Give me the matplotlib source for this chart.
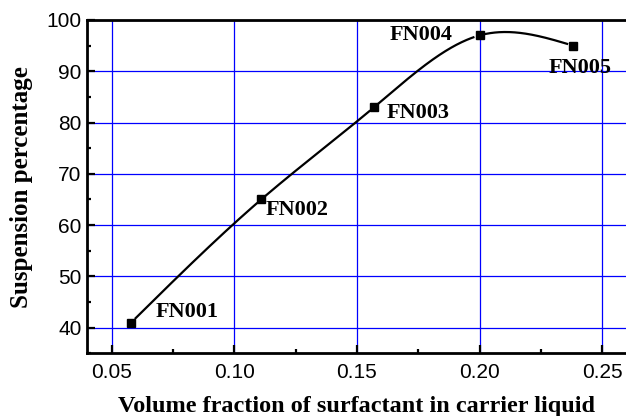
import numpy as np
import matplotlib
matplotlib.use('Agg')
import matplotlib.pyplot as plt
from matplotlib.ticker import MultipleLocator

samples = ['FN001', 'FN002', 'FN003', 'FN004', 'FN005']
volume_fraction = [0.058, 0.111, 0.157, 0.200, 0.238]
suspension = [41, 65, 83, 97, 95]

# label offsets in pixels (dx, dy) and horizontal alignment
label_offsets = [(24, 11), (4, -11), (12, -6), (-27, 0), (7, -22)]
label_ha = ['left', 'left', 'left', 'right', 'center']


def natural_spline(x, y, xs):
    # plain natural cubic spline, used only to draw the smooth connecting line
    x = np.asarray(x, float)
    y = np.asarray(y, float)
    n = len(x)
    h = np.diff(x)
    A = np.zeros((n, n))
    b = np.zeros(n)
    A[0, 0] = A[-1, -1] = 1
    for i in range(1, n - 1):
        A[i, i - 1] = h[i - 1]
        A[i, i] = 2 * (h[i - 1] + h[i])
        A[i, i + 1] = h[i]
        b[i] = 6 * ((y[i + 1] - y[i]) / h[i] - (y[i] - y[i - 1]) / h[i - 1])
    M = np.linalg.solve(A, b)
    idx = np.clip(np.searchsorted(x, xs) - 1, 0, n - 2)
    x0, x1 = x[idx], x[idx + 1]
    hh = x1 - x0
    t0 = x1 - xs
    t1 = xs - x0
    return ((M[idx] * t0 ** 3 + M[idx + 1] * t1 ** 3) / (6 * hh)
            + (y[idx] / hh - M[idx] * hh / 6) * t0
            + (y[idx + 1] / hh - M[idx + 1] * hh / 6) * t1)


fig = plt.figure(figsize=(6.26, 4.16), dpi=100)
ax = fig.add_axes([0.139, 0.1507, 0.8625, 0.8013])
ax.set_xlim(0.04, 0.26)
ax.set_ylim(35, 100)

ax.xaxis.set_minor_locator(MultipleLocator(0.025))
ax.yaxis.set_minor_locator(MultipleLocator(5))
ax.set_yticks(np.arange(40, 101, 10))
ax.set_xticks(np.arange(0.05, 0.26, 0.05))
ax.set_xticklabels(['%.2f' % v for v in np.arange(0.05, 0.26, 0.05)])

ax.grid(True, which='major', color='#0000ff', linewidth=0.9)
ax.set_axisbelow(True)

for side in ['left', 'bottom', 'top']:
    ax.spines[side].set_linewidth(2)
ax.spines['right'].set_visible(False)

ax.tick_params(which='both', direction='in', top=False, right=False,
               width=1.6, colors='black')
ax.tick_params(which='major', length=6)
ax.tick_params(which='minor', length=3)
ax.tick_params(axis='x', pad=7)
ax.tick_params(axis='y', pad=4)
for lab in ax.get_xticklabels() + ax.get_yticklabels():
    lab.set_fontfamily('Liberation Sans')
    lab.set_fontsize(15)

# smooth line with small gaps around the symbols
xs = np.linspace(volume_fraction[0], volume_fraction[-1], 600)
ys = natural_spline(volume_fraction, suspension, xs)
disp = ax.transData.transform(np.column_stack([xs, ys]))
pts = ax.transData.transform(np.column_stack([volume_fraction, suspension]))
d = np.min(np.hypot(disp[:, None, 0] - pts[None, :, 0],
                    disp[:, None, 1] - pts[None, :, 1]), axis=1)
ys[d < 6] = np.nan
ax.plot(xs, ys, color='black', linewidth=1.6, zorder=3)
ax.plot(volume_fraction, suspension, 's', color='black', markersize=5.2, zorder=4)

for name, x, y, (dx, dy), ha in zip(samples, volume_fraction, suspension, label_offsets, label_ha):
    ax.annotate(name, (x, y), xytext=(dx, dy), textcoords='offset pixels',
                ha=ha, va='center', fontfamily='Liberation Serif',
                fontweight='bold', fontsize=16)

ax.set_xlabel('Volume fraction of surfactant in carrier liquid',
              fontfamily='Liberation Serif', fontweight='bold', fontsize=17.5)
ax.set_ylabel('Suspension percentage',
              fontfamily='Liberation Serif', fontweight='bold', fontsize=18)
ax.xaxis.set_label_coords(0.5, -0.128)
ax.yaxis.set_label_coords(-0.1, 0.5)

fig.savefig('out.png', dpi=100)
